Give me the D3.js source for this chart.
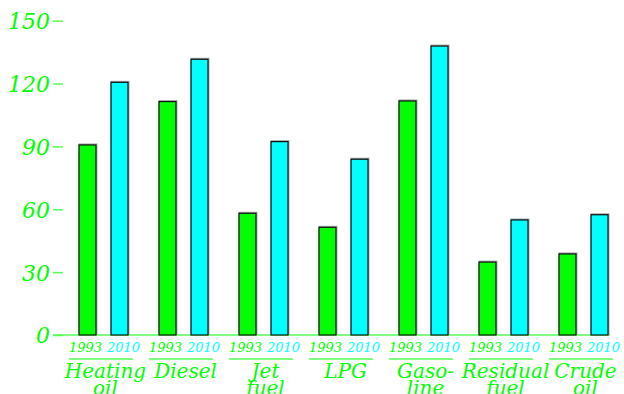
<!DOCTYPE html>
<html>
<head>
<meta charset="utf-8">
<script src="https://cdn.jsdelivr.net/npm/d3@7"></script>
<style>
	body { margin: 0; background: #fff; }
	svg { display: block; }
	text { font-family: "DejaVu Serif", serif; font-style: italic; }
</style>
</head>
<body>
<div id="chart"></div>
<script>
var categories = ["Heating oil", "Diesel", "Jet fuel", "LPG", "Gaso- line", "Residual fuel", "Crude oil"];
var labelLines = [["Heating", "oil"], ["Diesel"], ["Jet", "fuel"], ["LPG"], ["Gaso-", "line"], ["Residual", "fuel"], ["Crude", "oil"]];
var years = ["1993", "2010"];
var values1993 = [90.7, 111.4, 58.1, 51.4, 111.7, 34.8, 38.7];
var values2010 = [120.6, 131.6, 92.3, 83.9, 137.9, 54.9, 57.4];
var yTicks = [0, 30, 60, 90, 120, 150];

var width = 624;
var height = 394;
var green = "#00ff00";
var cyan = "#00ffff";
var yearColor = {"1993": green, "2010": cyan};

var svg = d3.select("#chart")
		.append("svg")
		.attr("width", width)
		.attr("height", height);

var xScale = d3.scaleBand()
		.domain(categories)
		.range([63, 624])
		.paddingInner(0.3875)
		.paddingOuter(0.2);

var xInner = d3.scaleBand()
		.domain(years)
		.range([0, xScale.bandwidth()])
		.paddingInner(0.47);

var yScale = d3.scaleLinear()
		.domain([0, 150])
		.range([335, 20.7]);

// y axis: labels left, ticks pointing right
var yAxis = d3.axisLeft(yScale)
		.tickValues(yTicks)
		.tickSize(-10)
		.tickPadding(3);

var yAxisHandle = svg.append("g")
	.attr("transform", "translate(53,0)")
	.call(yAxis);

yAxisHandle.select(".domain").remove();
yAxisHandle.selectAll(".tick line")
	.attr("stroke", "#55ff55")
	.attr("stroke-width", 1.5);
yAxisHandle.selectAll(".tick text")
	.attr("fill", green)
	.attr("font-size", 22)
	.attr("font-family", "DejaVu Serif")
	.attr("font-style", "italic")
	.attr("dy", "0.36em");

// baseline
svg.append("line")
	.attr("x1", 53)
	.attr("x2", xScale(categories[categories.length - 1]) + xScale.bandwidth() + 2)
	.attr("y1", yScale(0))
	.attr("y2", yScale(0))
	.attr("stroke", "#55ff55")
	.attr("stroke-width", 1.5);

var rows = categories.map(function(c, i) {
	return {cat: c, lines: labelLines[i], vals: {"1993": values1993[i], "2010": values2010[i]}};
});

var groups = svg.selectAll(".grp")
	.data(rows)
	.enter()
	.append("g")
	.attr("class", "grp")
	.attr("transform", function(d) { return "translate(" + xScale(d.cat) + ",0)"; });

// faint shadow behind each bar
groups.selectAll(".shadow")
	.data(function(d) { return years.map(function(y) { return {year: y, v: d.vals[y]}; }); })
	.enter()
	.append("rect")
	.attr("class", "shadow")
	.attr("x", function(d) { return xInner(d.year) - 0.5; })
	.attr("y", function(d) { return yScale(d.v) - 1.5; })
	.attr("width", xInner.bandwidth() + 2)
	.attr("height", function(d) { return yScale(0) - yScale(d.v) + 1.5; })
	.attr("fill", "#aaa");

groups.selectAll(".bar")
	.data(function(d) { return years.map(function(y) { return {year: y, v: d.vals[y]}; }); })
	.enter()
	.append("rect")
	.attr("class", "bar")
	.attr("x", function(d) { return xInner(d.year); })
	.attr("y", function(d) { return yScale(d.v); })
	.attr("width", xInner.bandwidth())
	.attr("height", function(d) { return yScale(0) - yScale(d.v); })
	.attr("fill", function(d) { return yearColor[d.year]; })
	.attr("stroke", "#111")
	.attr("stroke-width", 1.2);

// year labels: 1993 ends just past its bar, 2010 starts just before its bar
groups.selectAll(".yr")
	.data(years)
	.enter()
	.append("text")
	.attr("class", "yr")
	.attr("x", function(d, i) {
		return i === 0 ? xInner(d) + xInner.bandwidth() + 6 : xInner(d) - 4;
	})
	.attr("y", 352)
	.attr("text-anchor", function(d, i) { return i === 0 ? "end" : "start"; })
	.attr("font-size", 13)
	.attr("fill", function(d) { return yearColor[d]; })
	.text(function(d) { return d; });

groups.append("line")
	.attr("x1", -10)
	.attr("x2", xScale.bandwidth() + 5)
	.attr("y1", 359)
	.attr("y2", 359)
	.attr("stroke", green)
	.attr("stroke-width", 1);

groups.each(function(d) {
	var g = d3.select(this);
	d.lines.forEach(function(t, i) {
		g.append("text")
			.attr("x", xScale.bandwidth() / 2 + 2)
			.attr("y", 378 + i * 17)
			.attr("text-anchor", "middle")
			.attr("font-size", 20)
			.attr("fill", green)
			.text(t);
	});
});
</script>
</body>
</html>
